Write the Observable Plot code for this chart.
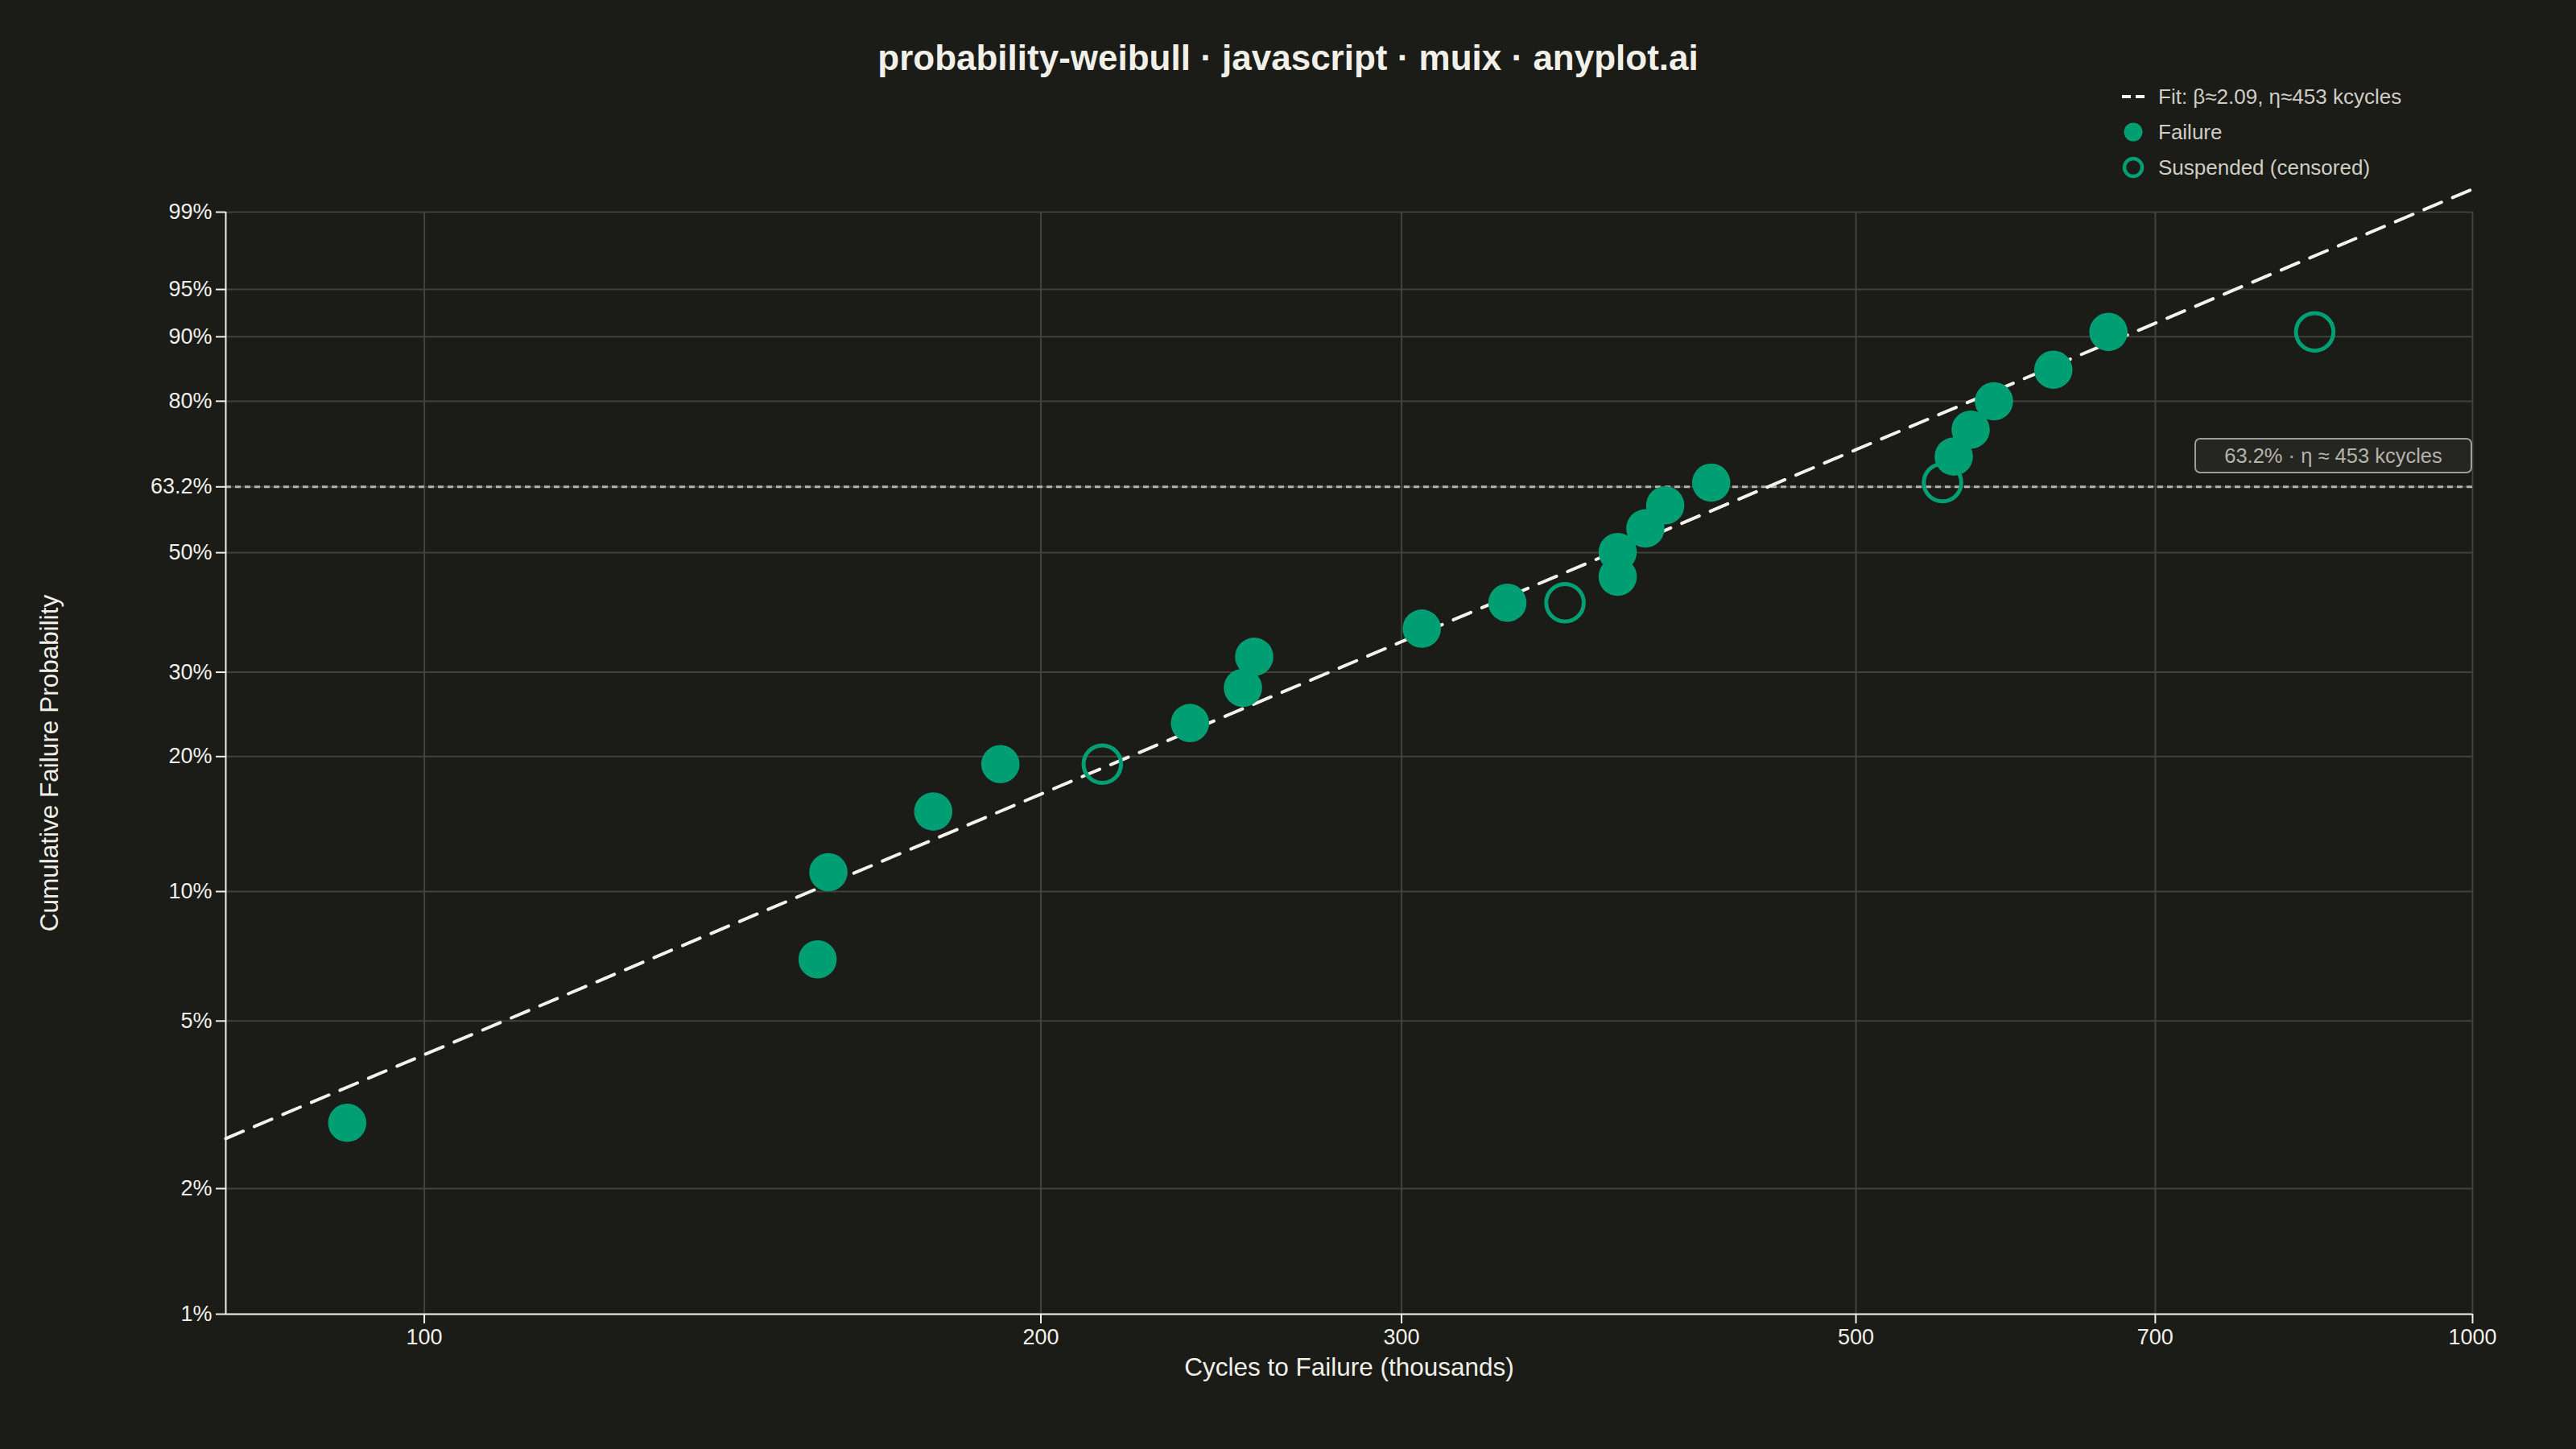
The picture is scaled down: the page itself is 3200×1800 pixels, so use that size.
<!DOCTYPE html>
<html>
<head>
<meta charset="utf-8">
<script src="https://cdn.jsdelivr.net/npm/d3@7"></script>
<script src="https://cdn.jsdelivr.net/npm/@observablehq/plot@0.6"></script>
<style>
  html, body { margin: 0; padding: 0; background: #1b1b17; }
  #wrap { position: relative; width: 3200px; height: 1800px; background: #1b1b17; overflow: hidden; }
  #title { position: absolute; left: 0; top: 46px; width: 3200px; text-align: center;
           font-family: "Liberation Sans", Arial, sans-serif; font-weight: bold; font-size: 44px; line-height: 52px; color: #f0efe8; }
  #legend { position: absolute; left: 2630px; top: 98px; font-family: "Liberation Sans", Arial, sans-serif;
            font-size: 26px; color: #cfcdc4; }
  .row { display: flex; align-items: center; height: 44px; }
  .row svg { width: 40px; height: 44px; margin-right: 11px; }
  #annot { position: absolute; box-sizing: border-box; height: 44px; width: 345px; border: 2px solid #9f9d95;
           border-radius: 7px; background: #252521; color: #b5b3aa; font-family: "Liberation Sans", Arial, sans-serif;
           font-size: 25.5px; line-height: 40px; text-align: center; }
  #ylabel { position: absolute; white-space: nowrap; font-family: "Liberation Sans", Arial, sans-serif;
            font-size: 31.5px; color: #f0efe8; transform: translate(-50%, -50%) rotate(-90deg); line-height: 36px; }
  #chart { position: absolute; left: 0; top: 0; }
</style>
</head>
<body>
<div id="wrap">
  <div id="chart"></div>
  <div id="title"></div>
  <div id="legend"></div>
  <div id="annot"></div>
  <div id="ylabel"></div>
</div>
<script>
// ---- data ----
const titleText = "probability-weibull · javascript · muix · anyplot.ai";
const xLabel = "Cycles to Failure (thousands)";
const yLabel = "Cumulative Failure Probability";

const failureCycles = [91.7, 155.6, 157.5, 177.2, 191.1, 236.5, 251.0, 254.2, 306.9, 337.9,
                       382.5, 382.5, 394.6, 403.5, 424.9, 558.1, 568.8, 583.9, 624.2, 664.1];
const failureProb   = [0.0287, 0.0697, 0.1107, 0.1516, 0.1926, 0.2358, 0.2789, 0.3220, 0.3652, 0.4083,
                       0.4548, 0.5012, 0.5477, 0.5942, 0.6406, 0.6937, 0.7468, 0.7999, 0.8530, 0.9061];

const suspendedCycles = [214.3, 360.5, 551.1, 837.4];
const suspendedProb   = [0.1926, 0.4083, 0.6406, 0.9061];

const fitBeta = 2.09;
const fitEta = 453;
const fitRangeCycles = [80, 1000];

const xTickValues = [100, 200, 300, 500, 700, 1000];
const yTickValues = [0.01, 0.02, 0.05, 0.10, 0.20, 0.30, 0.50, 0.632, 0.80, 0.90, 0.95, 0.99];
const yTickLabels = ["1%", "2%", "5%", "10%", "20%", "30%", "50%", "63.2%", "80%", "90%", "95%", "99%"];
const etaProb = 0.632;

const legendLabels = ["Fit: β≈2.09, η≈453 kcycles", "Failure", "Suspended (censored)"];
const annotText = "63.2% · η ≈ 453 kcycles";

// ---- styling ----
const CREAM = "#f0efe8";
const GREEN = "#009E73";
const GRID = "#42423d";
const FONT = "'Liberation Sans', Arial, Helvetica, sans-serif";

// Weibull probability-paper transform
const tf = p => Math.log(-Math.log(1 - p));

const failures = failureCycles.map((c, i) => ({c, t: tf(failureProb[i])}));
const suspended = suspendedCycles.map((c, i) => ({c, t: tf(suspendedProb[i])}));
const fitLine = fitRangeCycles.map(c => ({c, t: fitBeta * (Math.log(c) - Math.log(fitEta))}));
const yTickT = yTickValues.map(tf);
const yFmt = d => {
  let best = 0;
  yTickT.forEach((v, i) => { if (Math.abs(v - d) < Math.abs(yTickT[best] - d)) best = i; });
  return yTickLabels[best];
};

const chart = Plot.plot({
  width: 3200,
  height: 1800,
  marginLeft: 280,
  marginRight: 129,
  marginTop: 263,
  marginBottom: 168,
  style: {background: "transparent", color: CREAM, fontFamily: FONT, overflow: "visible"},
  x: {type: "log", domain: fitRangeCycles},
  y: {type: "linear", domain: [tf(yTickValues[0]), tf(yTickValues[yTickValues.length - 1])]},
  marks: [
    Plot.gridX(xTickValues, {stroke: GRID, strokeOpacity: 1, strokeWidth: 2}),
    Plot.gridY(yTickT, {stroke: GRID, strokeOpacity: 1, strokeWidth: 2}),
    Plot.ruleY([tf(etaProb)], {stroke: "#b5b3aa", strokeWidth: 3, strokeDasharray: "7,5"}),
    Plot.ruleX([fitRangeCycles[0]], {stroke: CREAM, strokeWidth: 2}),
    Plot.ruleY([tf(yTickValues[0])], {stroke: CREAM, strokeWidth: 2}),
    Plot.axisX(xTickValues, {tickSize: 12, tickPadding: 6, fontSize: 27, strokeWidth: 2,
      stroke: CREAM, fill: CREAM, tickFormat: d => String(d), label: null}),
    Plot.axisY(yTickT, {tickSize: 12, tickPadding: 5, fontSize: 27, strokeWidth: 2,
      stroke: CREAM, fill: CREAM, tickFormat: yFmt, label: null}),
    Plot.line(fitLine, {x: "c", y: "t", stroke: "#f4f2ea", strokeWidth: 4, strokeDasharray: "23.5,15"}),
    Plot.dot(failures, {x: "c", y: "t", r: 23.8, fill: GREEN, stroke: "none"}),
    Plot.dot(suspended, {x: "c", y: "t", r: 23.3, fill: "none", stroke: GREEN, strokeWidth: 5}),
    Plot.text([xLabel], {text: d => d, frameAnchor: "bottom", dy: 66, fontSize: 31.5, fill: CREAM, lineAnchor: "middle"})
  ]
});
document.getElementById("chart").appendChild(chart);

document.getElementById("title").textContent = titleText;

// legend
const swatches = [
  `<svg viewBox="0 0 40 44"><line x1="6" x2="34" y1="22" y2="22" stroke="#f4f2ea" stroke-width="4" stroke-dasharray="11,6"/></svg>`,
  `<svg viewBox="0 0 40 44"><circle cx="20" cy="22" r="11.5" fill="${GREEN}"/></svg>`,
  `<svg viewBox="0 0 40 44"><circle cx="20" cy="22" r="11" fill="none" stroke="${GREEN}" stroke-width="4.5"/></svg>`
];
document.getElementById("legend").innerHTML = legendLabels
  .map((l, i) => `<div class="row">${swatches[i]}<span>${l}</span></div>`).join("");

// positions anchored with the chart's scales
const sx = chart.scale("x"), sy = chart.scale("y");
const annot = document.getElementById("annot");
annot.textContent = annotText;
const right = sx.apply(fitRangeCycles[1]);
const lineY = sy.apply(tf(etaProb));
annot.style.left = (right - 345) + "px";
annot.style.top = (lineY - 16 - 44) + "px";

const ylab = document.getElementById("ylabel");
ylab.textContent = yLabel;
const yMid = (sy.apply(tf(yTickValues[0])) + sy.apply(tf(yTickValues[yTickValues.length - 1]))) / 2;
ylab.style.left = "61px";
ylab.style.top = yMid + "px";
</script>
</body>
</html>
